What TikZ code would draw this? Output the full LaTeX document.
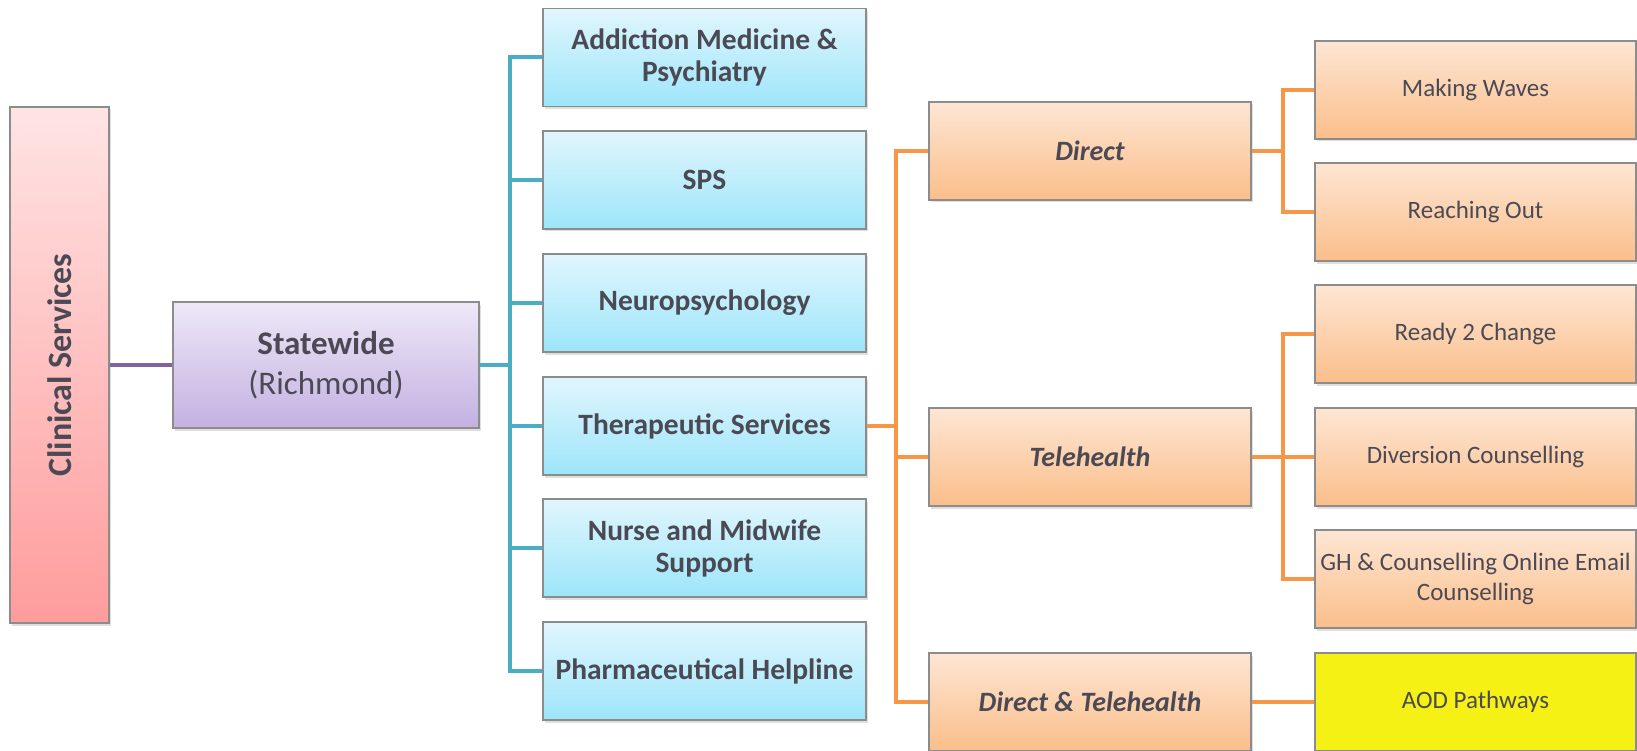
\documentclass[tikz,border=0pt]{standalone}
\usepackage{fontspec}
\setmainfont{Carlito}
\usepackage{tikz}
\usetikzlibrary{shadows}

\definecolor{txtgray}{HTML}{4B4A54}
\definecolor{edgegray}{HTML}{8C8C8C}
\definecolor{pinktop}{HTML}{FFE4E4}
\definecolor{pinkbot}{HTML}{FF9C9C}
\definecolor{liltop}{HTML}{EEE8F7}
\definecolor{lilbot}{HTML}{C3B1E2}
\definecolor{bluetop}{HTML}{E1F6FD}
\definecolor{bluebot}{HTML}{9DE5FA}
\definecolor{orgtop}{HTML}{FDE6D4}
\definecolor{orgbot}{HTML}{FBBE8A}
\definecolor{aodyellow}{HTML}{F6F114}
\definecolor{blueline}{HTML}{4BACC6}
\definecolor{orgline}{HTML}{F79646}
\definecolor{purpline}{HTML}{8064A2}

\tikzset{
    box/.style={draw=edgegray, line width=1.2pt, text=txtgray, align=center, inner sep=0pt,
        drop shadow={shadow xshift=1.5pt, shadow yshift=-2.5pt, opacity=0.25}},
    clinbox/.style={box, minimum width=99pt, minimum height=516pt, top color=pinktop, bottom color=pinkbot},
    statebox/.style={box, minimum width=306pt, minimum height=126pt, top color=liltop, bottom color=lilbot,
        font=\fontsize{33}{40}\selectfont},
    progbox/.style={box, minimum width=323pt, minimum height=98pt, top color=bluetop, bottom color=bluebot,
        font=\bfseries\fontsize{29.5}{32}\selectfont},
    modebox/.style={box, minimum width=322pt, minimum height=98pt, top color=orgtop, bottom color=orgbot,
        font=\bfseries\itshape\fontsize{28}{32}\selectfont},
    servbox/.style={box, minimum width=321pt, minimum height=98pt, top color=orgtop, bottom color=orgbot,
        font=\fontsize{25}{30}\selectfont},
    link/.style={line width=4pt},
}

\begin{document}
\begin{tikzpicture}[x=1pt,y=-1pt]
        \useasboundingbox (0,0) rectangle (1637,751);

        \node[clinbox] (clin) at (59.5,365) {};
        \node[rotate=90, text=txtgray, font=\bfseries\fontsize{34}{40}\selectfont] (clintxt) at (clin) {Clinical Services};
        \node[statebox] (state) at (326,365) {\textbf{Statewide}\\(Richmond)};

        \node[progbox] (addict) at (704.5,57.5) {Addiction Medicine \&\\Psychiatry};
        \node[progbox] (sps) at (704.5,180) {SPS};
        \node[progbox] (neuro) at (704.5,303) {Neuropsychology};
        \node[progbox] (thera) at (704.5,426) {Therapeutic Services};
        \node[progbox] (nurse) at (704.5,548) {Nurse and Midwife\\Support};
        \node[progbox] (pharma) at (704.5,671) {Pharmaceutical Helpline};

        \node[modebox] (direct) at (1090,151) {Direct};
        \node[modebox] (tele) at (1090,457) {Telehealth};
        \node[modebox] (dirtele) at (1090,702) {Direct \& Telehealth};

        \node[servbox] (waves) at (1475.5,90) {Making Waves};
        \node[servbox] (reach) at (1475.5,212) {Reaching Out};
        \node[servbox] (ready) at (1475.5,334) {Ready 2 Change};
        \node[servbox] (divers) at (1475.5,457) {Diversion Counselling};
        \node[servbox] (ghcoun) at (1475.5,579) {GH \& Counselling Online Email\\Counselling};
        \node[servbox, top color=aodyellow, bottom color=aodyellow] (aod) at (1475.5,702) {AOD Pathways};

        \coordinate (bt) at (510,365);
        \coordinate (ot) at (896,426);
        \coordinate (dt) at (1283,151);
        \coordinate (tt) at (1283,457);

        \draw[link, purpline] (clin.east) -- (state.west);
        \draw[link, blueline] (state.east) -- (bt);
        \foreach \n in {addict,sps,neuro,thera,nurse,pharma}
            \draw[link, blueline] (bt) |- (\n.west);

        \draw[link, orgline] (thera.east) -- (ot);
        \foreach \n in {direct,tele,dirtele}
            \draw[link, orgline] (ot) |- (\n.west);
        \draw[link, orgline] (direct.east) -- (dt);
        \foreach \n in {waves,reach}
            \draw[link, orgline] (dt) |- (\n.west);
        \draw[link, orgline] (tele.east) -- (tt);
        \foreach \n in {ready,divers,ghcoun}
            \draw[link, orgline] (tt) |- (\n.west);
        \draw[link, orgline] (dirtele.east) -- (aod.west);
    \end{tikzpicture}
\end{document}
